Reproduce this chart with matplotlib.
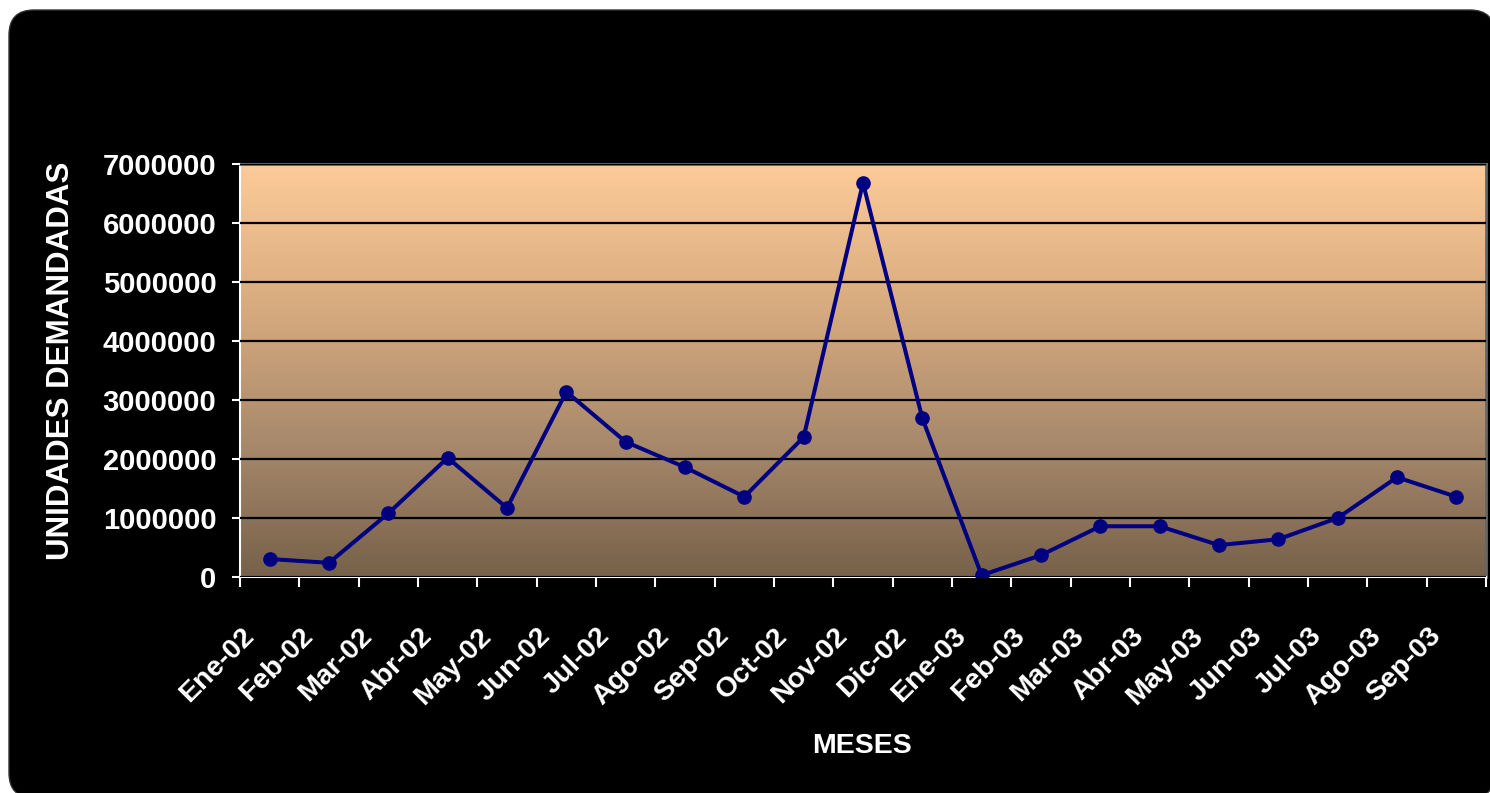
import numpy as np
import matplotlib
matplotlib.use('Agg')
import matplotlib.pyplot as plt
import matplotlib.transforms as mtransforms
from matplotlib.patches import FancyBboxPatch
from matplotlib.colors import LinearSegmentedColormap

plt.rcParams['font.family'] = ['Liberation Sans', 'DejaVu Sans']

# Data
meses = ['Ene-02', 'Feb-02', 'Mar-02', 'Abr-02', 'May-02', 'Jun-02', 'Jul-02',
         'Ago-02', 'Sep-02', 'Oct-02', 'Nov-02', 'Dic-02', 'Ene-03', 'Feb-03',
         'Mar-03', 'Abr-03', 'May-03', 'Jun-03', 'Jul-03', 'Ago-03', 'Sep-03']
unidades = [305000, 240000, 1080000, 2020000, 1170000, 3140000, 2290000,
            1860000, 1360000, 2370000, 6680000, 2690000, 30000, 370000,
            860000, 860000, 540000, 640000, 1000000, 1690000, 1360000]
y_ticks = [0, 1000000, 2000000, 3000000, 4000000, 5000000, 6000000, 7000000]

W, H = 1490, 793
fig = plt.figure(figsize=(W / 100, H / 100), dpi=100)
fig.patch.set_facecolor('white')

# black rounded background
bg = FancyBboxPatch((0.09, -0.05), 14.86, 7.88,
                    boxstyle='round,pad=0,rounding_size=0.25',
                    transform=fig.dpi_scale_trans, facecolor='black',
                    edgecolor='#333333', linewidth=1, zorder=-10)
fig.add_artist(bg)

ax = fig.add_axes([240 / W, (H - 577) / H, 1246 / W, 413 / H])
ax.set_facecolor('none')

# gradient plot area
cmap = LinearSegmentedColormap.from_list('plotbg', ['#77614a', '#a98a6c', '#d9ac80', '#fccb98'])
grad = np.linspace(0, 1, 256).reshape(-1, 1)
ax.imshow(grad, cmap=cmap, aspect='auto', extent=[0, 1, 0, 1],
          transform=ax.transAxes, origin='lower', zorder=0)

x = np.arange(len(meses))
ax.plot(x, unidades, color='#000080', linewidth=2.9, marker='o',
        markersize=9.5, zorder=3)

ax.set_xlim(-0.5, len(meses) - 0.5)
ax.set_ylim(0, 7000000)
ax.set_yticks(y_ticks)
ax.set_yticklabels([str(v) for v in y_ticks], color='white',
                   fontsize=21, fontweight='bold')
ax.set_xticks(np.arange(-0.5, len(meses), 1))
ax.set_xticklabels([])
ax.tick_params(axis='y', direction='out', length=6, width=1.5, color='white', pad=11)
ax.tick_params(axis='x', direction='out', length=7, width=1.5, color='white')

ax.grid(axis='y', color='black', linewidth=1.6, zorder=1)
ax.set_axisbelow(False)
ax.grid(axis='x', visible=False)

for s in ['left', 'bottom']:
    ax.spines[s].set_color('white')
    ax.spines[s].set_linewidth(1.5)
for s in ['top', 'right']:
    ax.spines[s].set_color('#666666')
    ax.spines[s].set_linewidth(2)

# rotated month labels
base = mtransforms.blended_transform_factory(ax.transData, ax.transAxes)
off = mtransforms.ScaledTranslation(-29 / 100, -46 / 100, fig.dpi_scale_trans)
for i, m in enumerate(meses):
    ax.text(i, 0, m, transform=base + off, rotation=45, rotation_mode='anchor',
            ha='right', va='top', fontsize=20.5, fontweight='bold', color='white')

fig.text(862 / W, (H - 753) / H, 'MESES', ha='center', va='baseline',
         fontsize=20.5, fontweight='bold', color='white')
fig.text(61 / W, 1 - 361 / H, 'UNIDADES DEMANDADAS', rotation=90,
         ha='center', va='center', fontsize=22.5, fontweight='bold', color='white')

fig.savefig('out.png', dpi=100)
